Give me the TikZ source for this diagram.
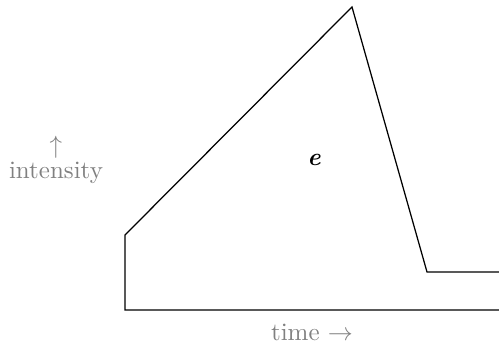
\documentclass[tikz,border=0pt]{standalone}
\usepackage{amsmath,amssymb}
\usepackage{xcolor}
\usepackage{tikz}
\usetikzlibrary{positioning,calc}
\definecolor{axisclr}{RGB}{128,128,128}
\tikzset{
  axislbl/.style={text=axisclr,inner sep=1pt,font=\normalsize},
  curve/.style={line width=0.5pt,line join=miter},
  area/.style={font=\normalsize\bfseries\itshape,inner sep=1pt},
}

\begin{document}
\begin{tikzpicture}[x=0.4pt, y=0.4pt]
\useasboundingbox (0,0) rectangle (499,344);
% corners of the curve
\coordinate (b0) at (125,34);
\coordinate (s0) at (125,109);
\coordinate (pk) at (352,337);
\coordinate (lo) at (427,72);
\coordinate (r1) at (499,72);
\coordinate (r0) at (499,34);

\draw[curve] (r1) -- (lo) -- (pk) -- (s0) -- (b0) -- (r0);

\node[area] (e) at (314,184) {e};
\node[axislbl, align=center] (yl) at (56,184) {$\uparrow$\\[-2pt]intensity};
\node[axislbl] (xl) at (312,12) {time $\rightarrow$};
\end{tikzpicture}
\end{document}
